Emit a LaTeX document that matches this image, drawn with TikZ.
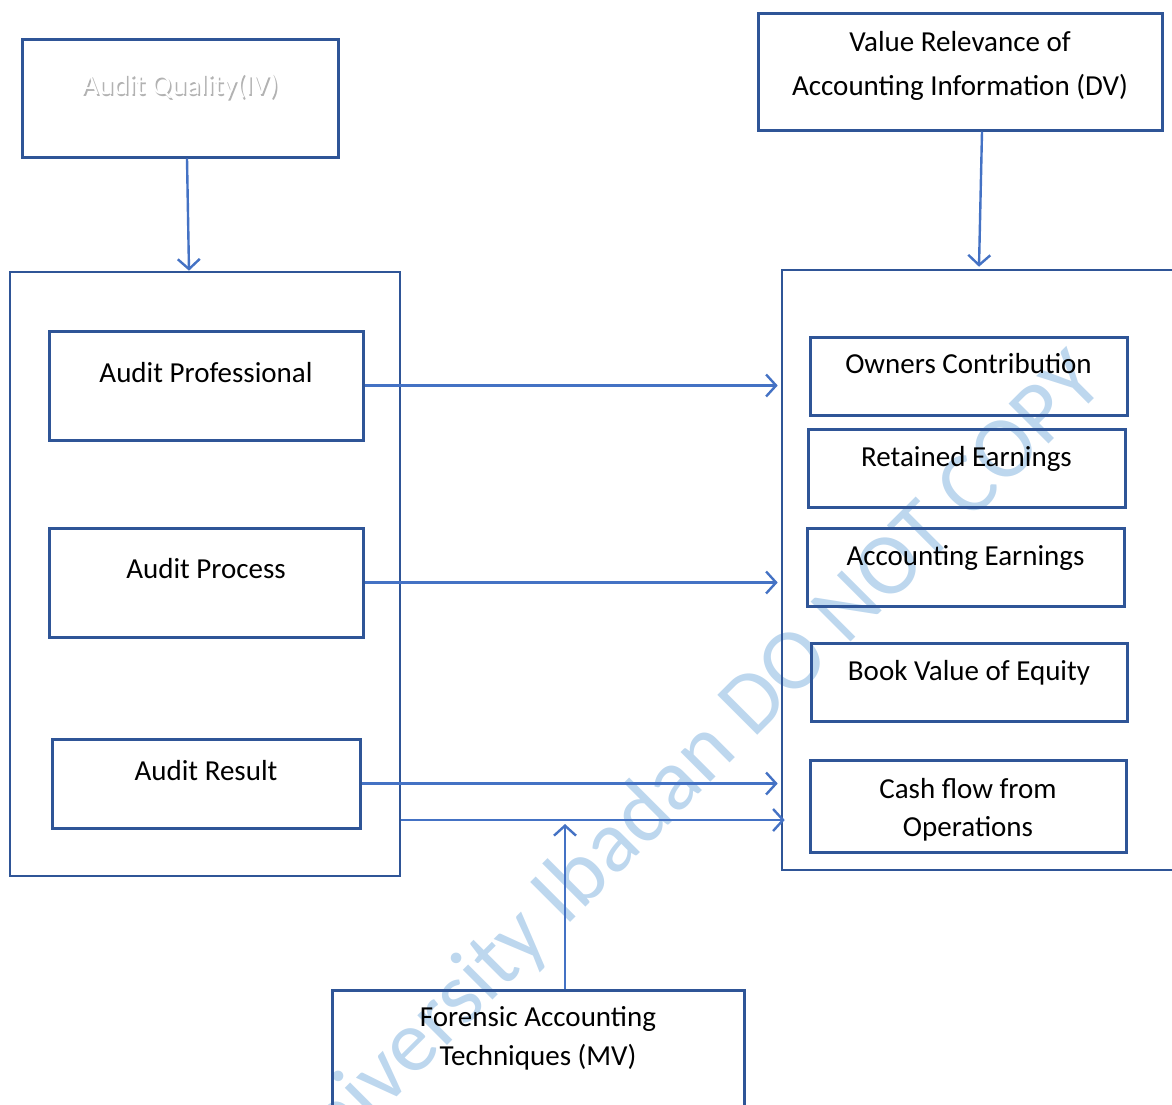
\documentclass[tikz,border=0pt]{standalone}
\usepackage{fontspec}
\setmainfont{Carlito}
\usetikzlibrary{positioning,arrows.meta}
\definecolor{boxblue}{HTML}{2F5597}
\definecolor{arrowblue}{HTML}{4472C4}
\definecolor{markblue}{HTML}{BDD7EE}
\tikzset{
	>={Straight Barb[length=10pt,width=22pt]}
}

\begin{document}
\begin{tikzpicture}[
x = 1pt, y = -1pt,
every node/.style = {
	font = \fontsize{29}{35}\selectfont,
	inner sep = 0pt
},
box/.style = {
	draw = boxblue,
	line width = 3pt
},
frame/.style = {
	draw = boxblue,
	line width = 2.6pt
},
arr/.style = {
	->,
	draw = arrowblue,
	line width = 2.4pt
},
watermark/.style = {
	text = markblue,
	font = \fontsize{88}{94}\selectfont
}
]
\clip (0,0) rectangle (1172,1104);

% watermark
\node (mark) [watermark, rotate=45] at (686,774) {University Ibadan DO NOT COPY};

% independent variable
\node (audit_quality) [box, minimum width = 316, minimum height = 118] at (180,98) {};
\node (aq_shadow) [below = 36pt of audit_quality.north, xshift = 1.5pt, yshift = -1.5pt, text = black!30] {Audit Quality(IV)};
\node (aq_text) [below = 36pt of audit_quality.north, text = white] {Audit Quality(IV)};

\node (left_box) [frame, minimum width = 390, minimum height = 604] at (205,574) {};
\node (audit_professional) [box, minimum width = 314, minimum height = 109] at (206,385.5) {};
\node [below = 33pt of audit_professional.north] {Audit Professional};
\node (audit_process) [box, minimum width = 314, minimum height = 109] at (206,582.5) {};
\node [below = 32pt of audit_process.north] {Audit Process};
\node (audit_result) [box, minimum width = 308, minimum height = 89] at (206,783.5) {};
\node [below = 23pt of audit_result.north] {Audit Result};

% dependent variable
\node (value_relevance) [box, minimum width = 404, minimum height = 117] at (960,71.5) {};
\node [below = 20pt of value_relevance.north, align = center] {Value Relevance of\\[9pt] Accounting Information (DV)};

\node (right_box) [frame, minimum width = 400, minimum height = 600] at (982,570) {};
\node (owners) [box, minimum width = 317, minimum height = 78] at (968.5,376) {};
\node [below = 18pt of owners.north] {Owners Contribution};
\node (retained) [box, minimum width = 317, minimum height = 78] at (966.5,468) {};
\node [below = 19pt of retained.north] {Retained Earnings};
\node (earnings) [box, minimum width = 317, minimum height = 78] at (965.5,567) {};
\node [below = 19pt of earnings.north] {Accounting Earnings};
\node (book_value) [box, minimum width = 316, minimum height = 78] at (969,682) {};
\node [below = 19pt of book_value.north] {Book Value of Equity};
\node (cash_flow) [box, minimum width = 316, minimum height = 92] at (968,806) {};
\node [below = 20pt of cash_flow.north, align = center] {Cash flow from\\[3pt] Operations};

% moderating variable
\node (forensic) [box, minimum width = 412, minimum height = 140] at (538,1060) {};
\node [below = 18pt of forensic.north, align = center] {Forensic Accounting\\[4pt] Techniques (MV)};

\coordinate (fa_join) at (565,820);

% connectors
\draw [arr] ([xshift = 7pt]audit_quality.south) -- ([xshift = -16pt]left_box.north);
\draw [arr] ([xshift = 22pt]value_relevance.south) -- ([xshift = -3pt, yshift = 2pt]right_box.north);
\draw [arr] (audit_professional.east) -- ([xshift = -3pt]right_box.west |- audit_professional.east);
\draw [arr] (audit_process.east) -- ([xshift = -3pt]right_box.west |- audit_process.east);
\draw [arr] (audit_result.east) -- ([xshift = -3pt]right_box.west |- audit_result.east);
\draw [arr] (left_box.east |- fa_join) -- ([xshift = 4pt]right_box.west |- fa_join);
\draw [arr] (forensic.north -| fa_join) -- ([yshift = -4pt]fa_join);

\end{tikzpicture}
\end{document}
